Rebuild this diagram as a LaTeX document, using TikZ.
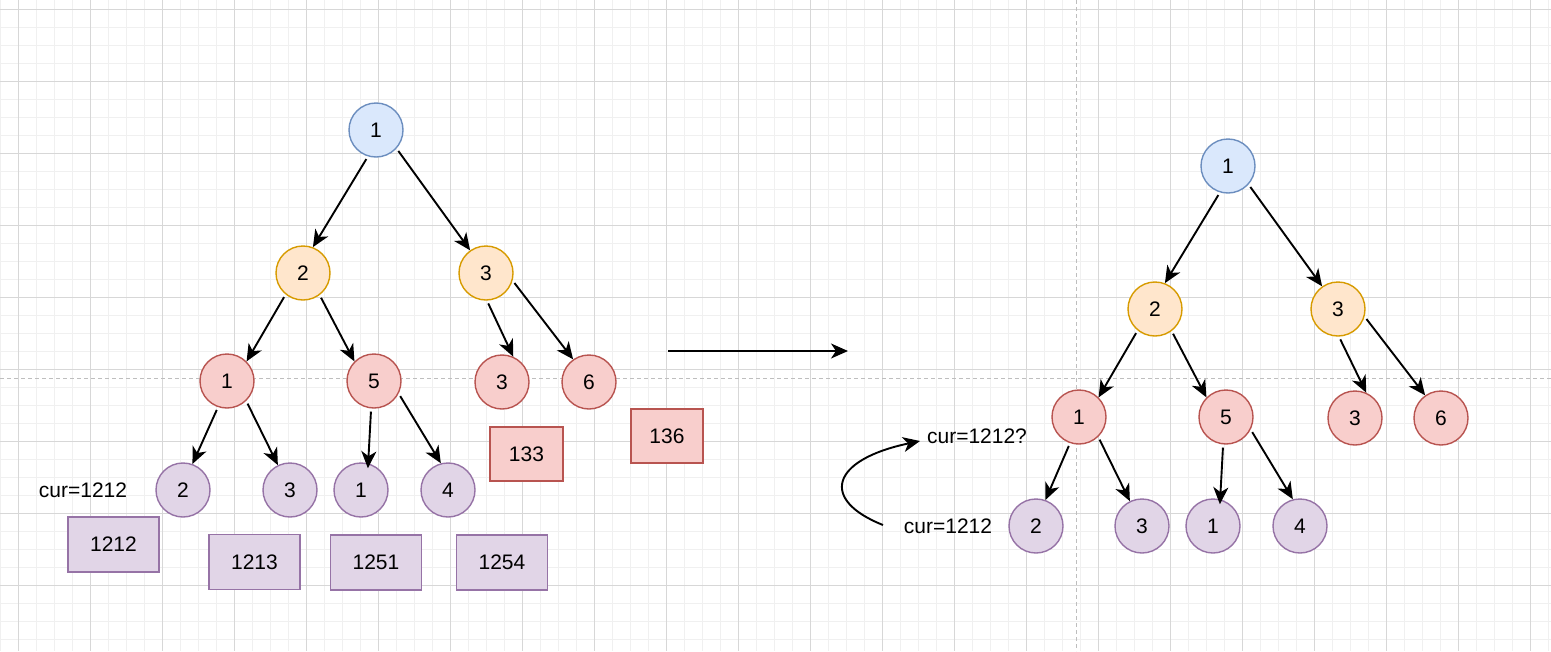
\documentclass[tikz,border=0pt]{standalone}
\usepackage{fontspec}
\setmainfont{Liberation Sans}
\usetikzlibrary{arrows.meta}
\definecolor{blueF}{HTML}{DAE8FC}
\definecolor{blueD}{HTML}{6C8EBF}
\definecolor{orangeF}{HTML}{FFE6CC}
\definecolor{orangeD}{HTML}{D79B00}
\definecolor{redF}{HTML}{F8CECC}
\definecolor{redD}{HTML}{B85450}
\definecolor{purpleF}{HTML}{E1D5E7}
\definecolor{purpleD}{HTML}{9673A6}
\definecolor{gridminor}{RGB}{240,240,240}
\definecolor{gridmajor}{RGB}{215,215,215}
\definecolor{dashgray}{RGB}{190,190,190}
\tikzset{
  txt/.style={font=\fontsize{21}{25}\selectfont, inner sep=0pt},
  circ/.style={circle, minimum size=54pt, inner sep=0pt, line width=1.4pt, txt},
  bluec/.style={circ, fill=blueF, draw=blueD},
  orangec/.style={circ, fill=orangeF, draw=orangeD},
  redc/.style={circ, fill=redF, draw=redD},
  purplec/.style={circ, fill=purpleF, draw=purpleD},
  boxn/.style={rectangle, minimum width=91pt, minimum height=55pt, inner sep=0pt, line width=1.4pt, txt},
  redbox/.style={boxn, fill=redF, draw=redD},
  purplebox/.style={boxn, fill=purpleF, draw=purpleD},
  arr/.style={line width=1.9pt, shorten <=3pt, -{Stealth[length=17pt,width=15pt,inset=5pt]}},
  minorline/.style={gridminor, line width=0.8pt},
  majorline/.style={gridmajor, line width=1pt},
  guide/.style={dashgray, line width=1pt, dash pattern=on 4pt off 3pt},
}
\begin{document}
\begin{tikzpicture}[x=1pt,y=-1pt]
\useasboundingbox (0,0) rectangle (1551,651);
\fill[white] (0,0) rectangle (1551,651);
% grid
\foreach \x in {0,18,...,1550} \draw[minorline] (\x,0) -- (\x,651);
\foreach \y in {9,27,...,650} \draw[minorline] (0,\y) -- (1551,\y);
\foreach \x in {18,90,...,1550} \draw[majorline] (\x,0) -- (\x,651);
\foreach \y in {9,81,...,650} \draw[majorline] (0,\y) -- (1551,\y);
% guides
\draw[guide] (0,378) -- (1551,378);
\draw[guide] (1076,0) -- (1076,651);

% left tree
\node[bluec] (A1) at (376,130) {1};
\node[orangec] (B2) at (303,273) {2};
\node[orangec] (B3) at (486,273) {3};
\node[redc] (C1) at (227,381) {1};
\node[redc] (C5) at (374,381) {5};
\node[redc] (C3) at (502,382) {3};
\node[redc] (C6) at (589,382) {6};
\node[purplec] (D2) at (183,490) {2};
\node[purplec] (D3) at (290,490) {3};
\node[purplec] (D1) at (361,490) {1};
\node[purplec] (D4) at (448,490) {4};
\node[txt] (curL) at (83,490) {cur=1212};
\node[purplebox] (b1212) at (113.5,544.5) {1212};
\node[purplebox] (b1213) at (254.5,562) {1213};
\node[purplebox] (b1251) at (376,562.5) {1251};
\node[purplebox] (b1254) at (502,562.5) {1254};
\node[redbox, minimum width=73pt, minimum height=54pt] (b133) at (526.5,454) {133};
\node[redbox, minimum width=72pt, minimum height=54pt] (b136) at (667,436) {136};

\draw[arr] (A1.253) -- (B2.69);
\draw[arr] (A1.-42) -- (B3.125);
\draw[arr] (B2.231) -- (C1.45);
\draw[arr] (B2.-53) -- (C5.135);
\draw[arr] (B3.-88) -- (C3.66);
\draw[arr] (B3.-16) -- (C6.125);
\draw[arr] (C1.-109) -- (D2.70);
\draw[arr] (C1.-46) -- (D3.116);
\draw[arr, shorten >=-5pt] (C5.-96) -- (D1.75);
\draw[arr] (C5.-27) -- (D4.105);

% middle arrow
\coordinate (m1) at (668,351);
\coordinate (m2) at (848,351);
\draw[arr, shorten <=0pt] (m1) -- (m2);

% right tree
\node[bluec] (RA1) at (1228,166) {1};
\node[orangec] (RB2) at (1155,309) {2};
\node[orangec] (RB3) at (1338,309) {3};
\node[redc] (RC1) at (1079,417) {1};
\node[redc] (RC5) at (1226,417) {5};
\node[redc] (RC3) at (1355,418) {3};
\node[redc] (RC6) at (1441,418) {6};
\node[purplec] (RD2) at (1036,526) {2};
\node[purplec] (RD3) at (1142,526) {3};
\node[purplec] (RD1) at (1213,526) {1};
\node[purplec] (RD4) at (1300,526) {4};

\draw[arr] (RA1.253) -- (RB2.69);
\draw[arr] (RA1.-42) -- (RB3.125);
\draw[arr] (RB2.231) -- (RC1.45);
\draw[arr] (RB2.-53) -- (RC5.135);
\draw[arr] (RB3.-88) -- (RC3.66);
\draw[arr] (RB3.-16) -- (RC6.125);
\draw[arr] (RC1.-109) -- (RD2.70);
\draw[arr] (RC1.-46) -- (RD3.116);
\draw[arr, shorten >=-5pt] (RC5.-96) -- (RD1.75);
\draw[arr] (RC5.-27) -- (RD4.105);

\node[txt] (curQ) at (977,436) {cur=1212?};
\node[txt] (curR) at (948,526) {cur=1212};
\coordinate (cs) at (883,525);
\coordinate (ce) at (920,441);
\draw[arr, shorten <=0pt] (cs) .. controls (820,500) and (830,460) .. (ce);
\end{tikzpicture}
\end{document}
